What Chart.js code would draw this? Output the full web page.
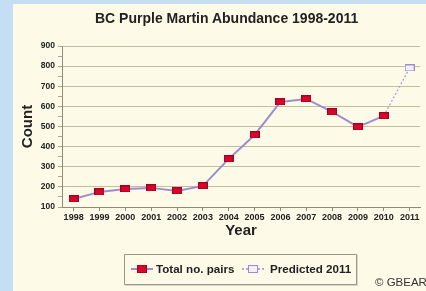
<!DOCTYPE html>
<html>
<head>
<meta charset="utf-8">
<script src="https://cdn.jsdelivr.net/npm/chart.js@4"></script>
<style>
  html, body { margin: 0; padding: 0; }
  body { width: 426px; height: 291px; position: relative; overflow: hidden; background: #c6def3; font-family: "Liberation Sans", Arial, sans-serif; }
  #panel { position: absolute; left: 13px; top: 4px; right: 0; bottom: 0; background: #fdfbe7; }
  #wrap { position: absolute; left: 0; top: 0; width: 426px; height: 291px; }
  #title { position: absolute; left: 95px; top: 10px; font-weight: bold; font-size: 14px; color: #222; white-space: nowrap; }
  #legend { position: absolute; left: 124px; top: 254px; width: 231px; height: 29px; border: 1px solid #9a9a90; box-shadow: 1px 1px 0 #d8d6c4; font-size: 11.6px; font-weight: bold; color: #222; }
  .item { position: absolute; top: 7px; white-space: nowrap; }
  .mk { position: absolute; }
  #copy { position: absolute; left: 375px; top: 276px; font-size: 11.5px; color: #333; white-space: nowrap; }
</style>
</head>
<body>
<div id="panel"></div>
<div id="wrap"><canvas id="c" width="426" height="291"></canvas></div>
<div id="title">BC Purple Martin Abundance 1998-2011</div>
<div id="legend">
  <svg class="mk" style="left:6px;top:8px" width="22" height="12">
    <line x1="0" y1="6" x2="22" y2="6" stroke="#a08ccc" stroke-width="2"/>
    <rect x="6.5" y="2.5" width="9" height="7" fill="#d8062a" stroke="#a5001e" stroke-width="1"/>
  </svg>
  <span class="item" style="left:31px">Total no. pairs</span>
  <svg class="mk" style="left:117px;top:8px" width="22" height="12">
    <line x1="0" y1="6" x2="22" y2="6" stroke="#a08ccc" stroke-width="1.5" stroke-dasharray="2,2"/>
    <rect x="6.5" y="2.5" width="9" height="7" fill="#f3effc" stroke="#9b8bd0" stroke-width="1"/>
  </svg>
  <span class="item" style="left:145px">Predicted 2011</span>
</div>
<div id="copy">© GBEAR</div>
<script>
const years = [1998, 1999, 2000, 2001, 2002, 2003, 2004, 2005, 2006, 2007, 2008, 2009, 2010];
const pairs = [140, 175, 190, 195, 180, 205, 339, 458, 622, 637, 573, 498, 553];
const predYears = [2010, 2011];
const predicted = [553, 791];
const yTicks = [100, 200, 300, 400, 500, 600, 700, 800, 900];

function marker(w, h, fill, stroke) {
  const cv = document.createElement('canvas');
  cv.width = w; cv.height = h;
  const g = cv.getContext('2d');
  g.fillStyle = fill;
  g.fillRect(0, 0, w, h);
  g.strokeStyle = stroke;
  g.lineWidth = 1;
  g.strokeRect(0.5, 0.5, w - 1, h - 1);
  return cv;
}
const redMark = marker(10, 7, '#d8062a', '#a5001e');
const openMark = marker(10, 7, '#f3effc', '#9b8bd0');

new Chart(document.getElementById('c'), {
  type: 'line',
  data: {
    datasets: [
      {
        label: 'Total no. pairs',
        data: years.map((y, i) => ({ x: y, y: pairs[i] })),
        borderColor: '#a08ccc',
        borderWidth: 2,
        pointStyle: redMark,
        tension: 0
      },
      {
        label: 'Predicted 2011',
        data: predYears.map((y, i) => ({ x: y, y: predicted[i] })),
        borderColor: '#a896d2',
        borderWidth: 1.2,
        borderDash: [2, 2],
        pointStyle: [false, openMark],
        tension: 0
      }
    ]
  },
  options: {
    responsive: false,
    animation: false,
    events: [],
    layout: { padding: { left: 19, top: 46, right: 0, bottom: 51 } },
    plugins: { legend: { display: false }, title: { display: false }, tooltip: { enabled: false } },
    scales: {
      x: {
        type: 'linear',
        min: 1997.55,
        max: 2011.4,
        afterFit: s => { s.height = 33; },
        ticks: {
          stepSize: 1,
          includeBounds: false,
          autoSkip: false,
          maxRotation: 0,
          padding: 1,
          color: '#222',
          font: { family: 'Liberation Sans', size: 9, weight: 'bold' },
          callback: v => String(v)
        },
        grid: { drawOnChartArea: false, tickLength: 4, color: '#8e8c7c' },
        border: { color: '#8e8c7c', width: 1 },
        title: {
          display: true, text: 'Year', color: '#222', padding: 0,
          font: { family: 'Liberation Sans', size: 15, weight: 'bold' }
        }
      },
      y: {
        min: 100,
        max: 900,
        afterFit: s => { s.width = 43; },
        afterBuildTicks: s => {
          const t = [];
          yTicks.forEach((v, i) => {
            t.push({ value: v });
            if (i < yTicks.length - 1) t.push({ value: (v + yTicks[i + 1]) / 2 });
          });
          s.ticks = t;
        },
        ticks: {
          color: '#222',
          padding: 3,
          autoSkip: false,
          font: { family: 'Liberation Sans', size: 8.5, weight: 'bold' },
          callback: v => yTicks.includes(v) ? String(v) : ''
        },
        grid: {
          color: c => yTicks.includes(c.tick && c.tick.value) ? '#c2be9e' : 'rgba(0,0,0,0)',
          tickColor: '#a8a694',
          tickLength: 4
        },
        border: { color: '#8e8c7c', width: 1 },
        title: {
          display: true, text: 'Count', color: '#222', padding: 0,
          font: { family: 'Liberation Sans', size: 15, weight: 'bold' }
        }
      }
    }
  }
});
</script>
</body>
</html>
